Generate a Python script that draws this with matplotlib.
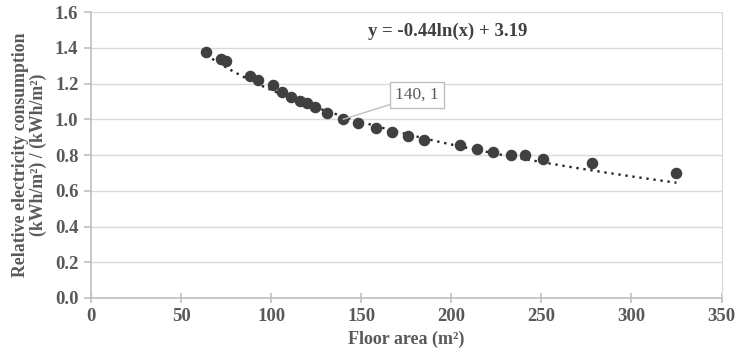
import numpy as np
import matplotlib
matplotlib.use("Agg")
import matplotlib.pyplot as plt

# data
floor_area = [64, 72, 75, 88, 92.5, 101, 106, 111, 116, 120, 124.5, 131, 140, 148,
              158, 167, 176, 185, 205, 214, 223, 233, 241, 251, 278, 325]
rel_consumption = [1.376, 1.337, 1.326, 1.244, 1.22, 1.19, 1.151, 1.123, 1.102, 1.093,
                   1.07, 1.037, 1.0, 0.979, 0.949, 0.929, 0.906, 0.884, 0.856, 0.832,
                   0.815, 0.798, 0.8, 0.779, 0.757, 0.701]
fit_a = -0.44
fit_b = 3.19
x_ticks = [0, 50, 100, 150, 200, 250, 300, 350]
y_ticks = [0.0, 0.2, 0.4, 0.6, 0.8, 1.0, 1.2, 1.4, 1.6]

txt_col = "#595959"
plt.rcParams['font.family'] = ['Liberation Serif', 'DejaVu Serif']

fig = plt.figure(figsize=(7.36, 3.6), dpi=100)
ax = fig.add_axes([91 / 736, 62 / 360, 630.5 / 736, 286 / 360])

# trend line (logarithmic fit)
xs = np.linspace(min(floor_area), max(floor_area), 200)
ax.plot(xs, fit_a * np.log(xs) + fit_b, linestyle=(0, (1, 2.0)), color="#262626",
        linewidth=1.7, zorder=2)
ax.plot(floor_area, rel_consumption, 'o', color="#404040", markersize=7.3, zorder=3)

ax.set_xlim(0, 350)
ax.set_ylim(0, 1.6)
ax.set_xticks(x_ticks)
ax.set_xticklabels([str(v) for v in x_ticks], fontweight='bold')
ax.set_yticks(y_ticks)
ax.set_yticklabels([f"{v:.1f}" for v in y_ticks], fontweight='bold')
ax.yaxis.grid(True, color="#d9d9d9", linewidth=1)
ax.set_axisbelow(True)

ax.spines['top'].set_visible(False)
ax.spines['right'].set_color("#d9d9d9")
ax.spines['left'].set_color("#bfbfbf")
ax.spines['bottom'].set_color("#bfbfbf")
ax.spines['left'].set_linewidth(1.2)
ax.spines['bottom'].set_linewidth(1.2)
ax.tick_params(axis='x', direction='inout', length=7, color="#bfbfbf", width=1.2,
               labelsize=13.5, labelcolor=txt_col, pad=4)
ax.tick_params(axis='y', direction='out', length=5, color="#bfbfbf", width=1.2,
               labelsize=13.5, labelcolor=txt_col, pad=4)

ax.set_xlabel("Floor area (m²)", fontsize=13, fontweight='bold', color=txt_col,
              labelpad=4)
ax.set_ylabel("Relative electricity consumption\n(kWh/m²) / (kWh/m²)", fontsize=12.8,
              fontweight='bold', color=txt_col, linespacing=1.05, labelpad=6)

ax.text(0.566, 0.933, "y = -0.44ln(x) + 3.19", transform=ax.transAxes, ha='center',
        va='center', fontsize=13.5, fontweight='bold', color="#404040")

# data callout
ax.annotate("140, 1", xy=(140, 1.0), xytext=(181, 1.136), fontsize=12.5, color=txt_col,
            ha='center', va='center',
            bbox=dict(boxstyle='square,pad=0.3', fc='white', ec="#bfbfbf", lw=1),
            arrowprops=dict(arrowstyle='-', color="#bfbfbf", lw=1, shrinkA=0, shrinkB=0,
                            relpos=(0.0, 0.0)))

fig.savefig("out.png", dpi=100)
